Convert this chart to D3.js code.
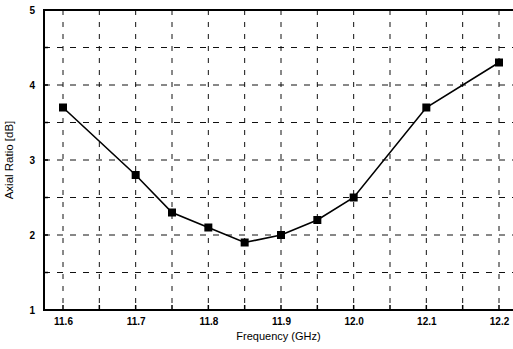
<!DOCTYPE html>
<html><head><meta charset="utf-8">
<script src="https://cdn.jsdelivr.net/npm/d3@7"></script>
<style>body{margin:0;background:#fff}svg{display:block}</style>
</head><body>
<svg id="c" width="513" height="349"></svg>
<script>
const freqs = [11.6, 11.7, 11.75, 11.8, 11.85, 11.9, 11.95, 12.0, 12.1, 12.2];
const axialRatio = [3.7, 2.8, 2.3, 2.1, 1.9, 2.0, 2.2, 2.5, 3.7, 4.3];
const xTicks = [11.6, 11.7, 11.8, 11.9, 12.0, 12.1, 12.2];
const yTicks = [1, 2, 3, 4, 5];
const xGrid = [11.6, 11.65, 11.7, 11.75, 11.8, 11.85, 11.9, 11.95, 12.0, 12.05, 12.1, 12.15, 12.2];
const yGrid = [1.5, 2, 2.5, 3, 3.5, 4, 4.5];
const xMinor = [11.6, 11.65, 11.7, 11.75, 11.8, 11.85, 11.9, 11.95, 12.0, 12.05, 12.1, 12.15, 12.2];
const yMinor = [1.5, 2, 2.5, 3, 3.5, 4, 4.5];

(function () {
const svg = d3.select("#c");
const x = d3.scaleLinear().domain([11.6, 12.2]).range([63, 499]);
const y = d3.scaleLinear().domain([1, 5]).range([310, 10]);
const pL = 44, pR = 515, pT = 10, pB = 310;
const font = "Arial, 'Liberation Sans', sans-serif";

const g = svg.append("g");
g.selectAll(".vg").data(xGrid).join("line")
  .attr("x1", d => x(d)).attr("x2", d => x(d)).attr("y1", pT).attr("y2", pB)
  .attr("stroke", "#111").attr("stroke-width", 1).attr("stroke-dasharray", "5,7");
g.selectAll(".hg").data(yGrid).join("line")
  .attr("x1", pL).attr("x2", pR).attr("y1", d => y(d)).attr("y2", d => y(d))
  .attr("stroke", "#111").attr("stroke-width", 1).attr("stroke-dasharray", "6,7");

const xAxis = d3.axisBottom(x).tickValues(xTicks).tickFormat(d3.format(".1f")).tickSize(0).tickPadding(8);
const gx = svg.append("g").attr("transform", `translate(0,${pB})`).call(xAxis);
gx.select(".domain").remove();
gx.selectAll("text").attr("font-family", font).attr("font-size", 10).attr("font-weight", "bold").attr("fill", "#000");

const yAxis = d3.axisLeft(y).tickValues(yTicks).tickFormat(d3.format("d")).tickSize(0).tickPadding(9);
const gy = svg.append("g").attr("transform", `translate(${pL},0)`).call(yAxis);
gy.select(".domain").remove();
gy.selectAll("text").attr("font-family", font).attr("font-size", 10).attr("font-weight", "bold").attr("fill", "#000");

svg.selectAll(".xm").data(xMinor).join("line")
  .attr("x1", d => x(d)).attr("x2", d => x(d)).attr("y1", pB).attr("y2", pB - 5)
  .attr("stroke", "#000").attr("stroke-width", 1.5);
svg.selectAll(".ym").data(yMinor).join("line")
  .attr("x1", pL).attr("x2", pL + 4).attr("y1", d => y(d)).attr("y2", d => y(d))
  .attr("stroke", "#000").attr("stroke-width", 1.5);

svg.append("path").attr("d", `M${pR},${pT}H${pL}V${pB}H${pR}`)
  .attr("fill", "none").attr("stroke", "#000").attr("stroke-width", 2);

const pts = freqs.map((f, i) => [f, axialRatio[i]]);
svg.append("path").datum(pts)
  .attr("d", d3.line().x(d => x(d[0])).y(d => y(d[1])))
  .attr("fill", "none").attr("stroke", "#000").attr("stroke-width", 1.6);
svg.selectAll(".mk").data(pts).join("rect")
  .attr("x", d => x(d[0]) - 4).attr("y", d => y(d[1]) - 4)
  .attr("width", 8).attr("height", 8).attr("fill", "#000");

svg.append("text").attr("x", (pL + pR) / 2 - 1).attr("y", 340)
  .attr("text-anchor", "middle").attr("font-family", font).attr("font-size", 11)
  .text("Frequency (GHz)");
svg.append("text").attr("transform", `translate(13,${(pT + pB) / 2}) rotate(-90)`)
  .attr("text-anchor", "middle").attr("font-family", font).attr("font-size", 11.5)
  .text("Axial Ratio [dB]");
})();
</script>
</body></html>
